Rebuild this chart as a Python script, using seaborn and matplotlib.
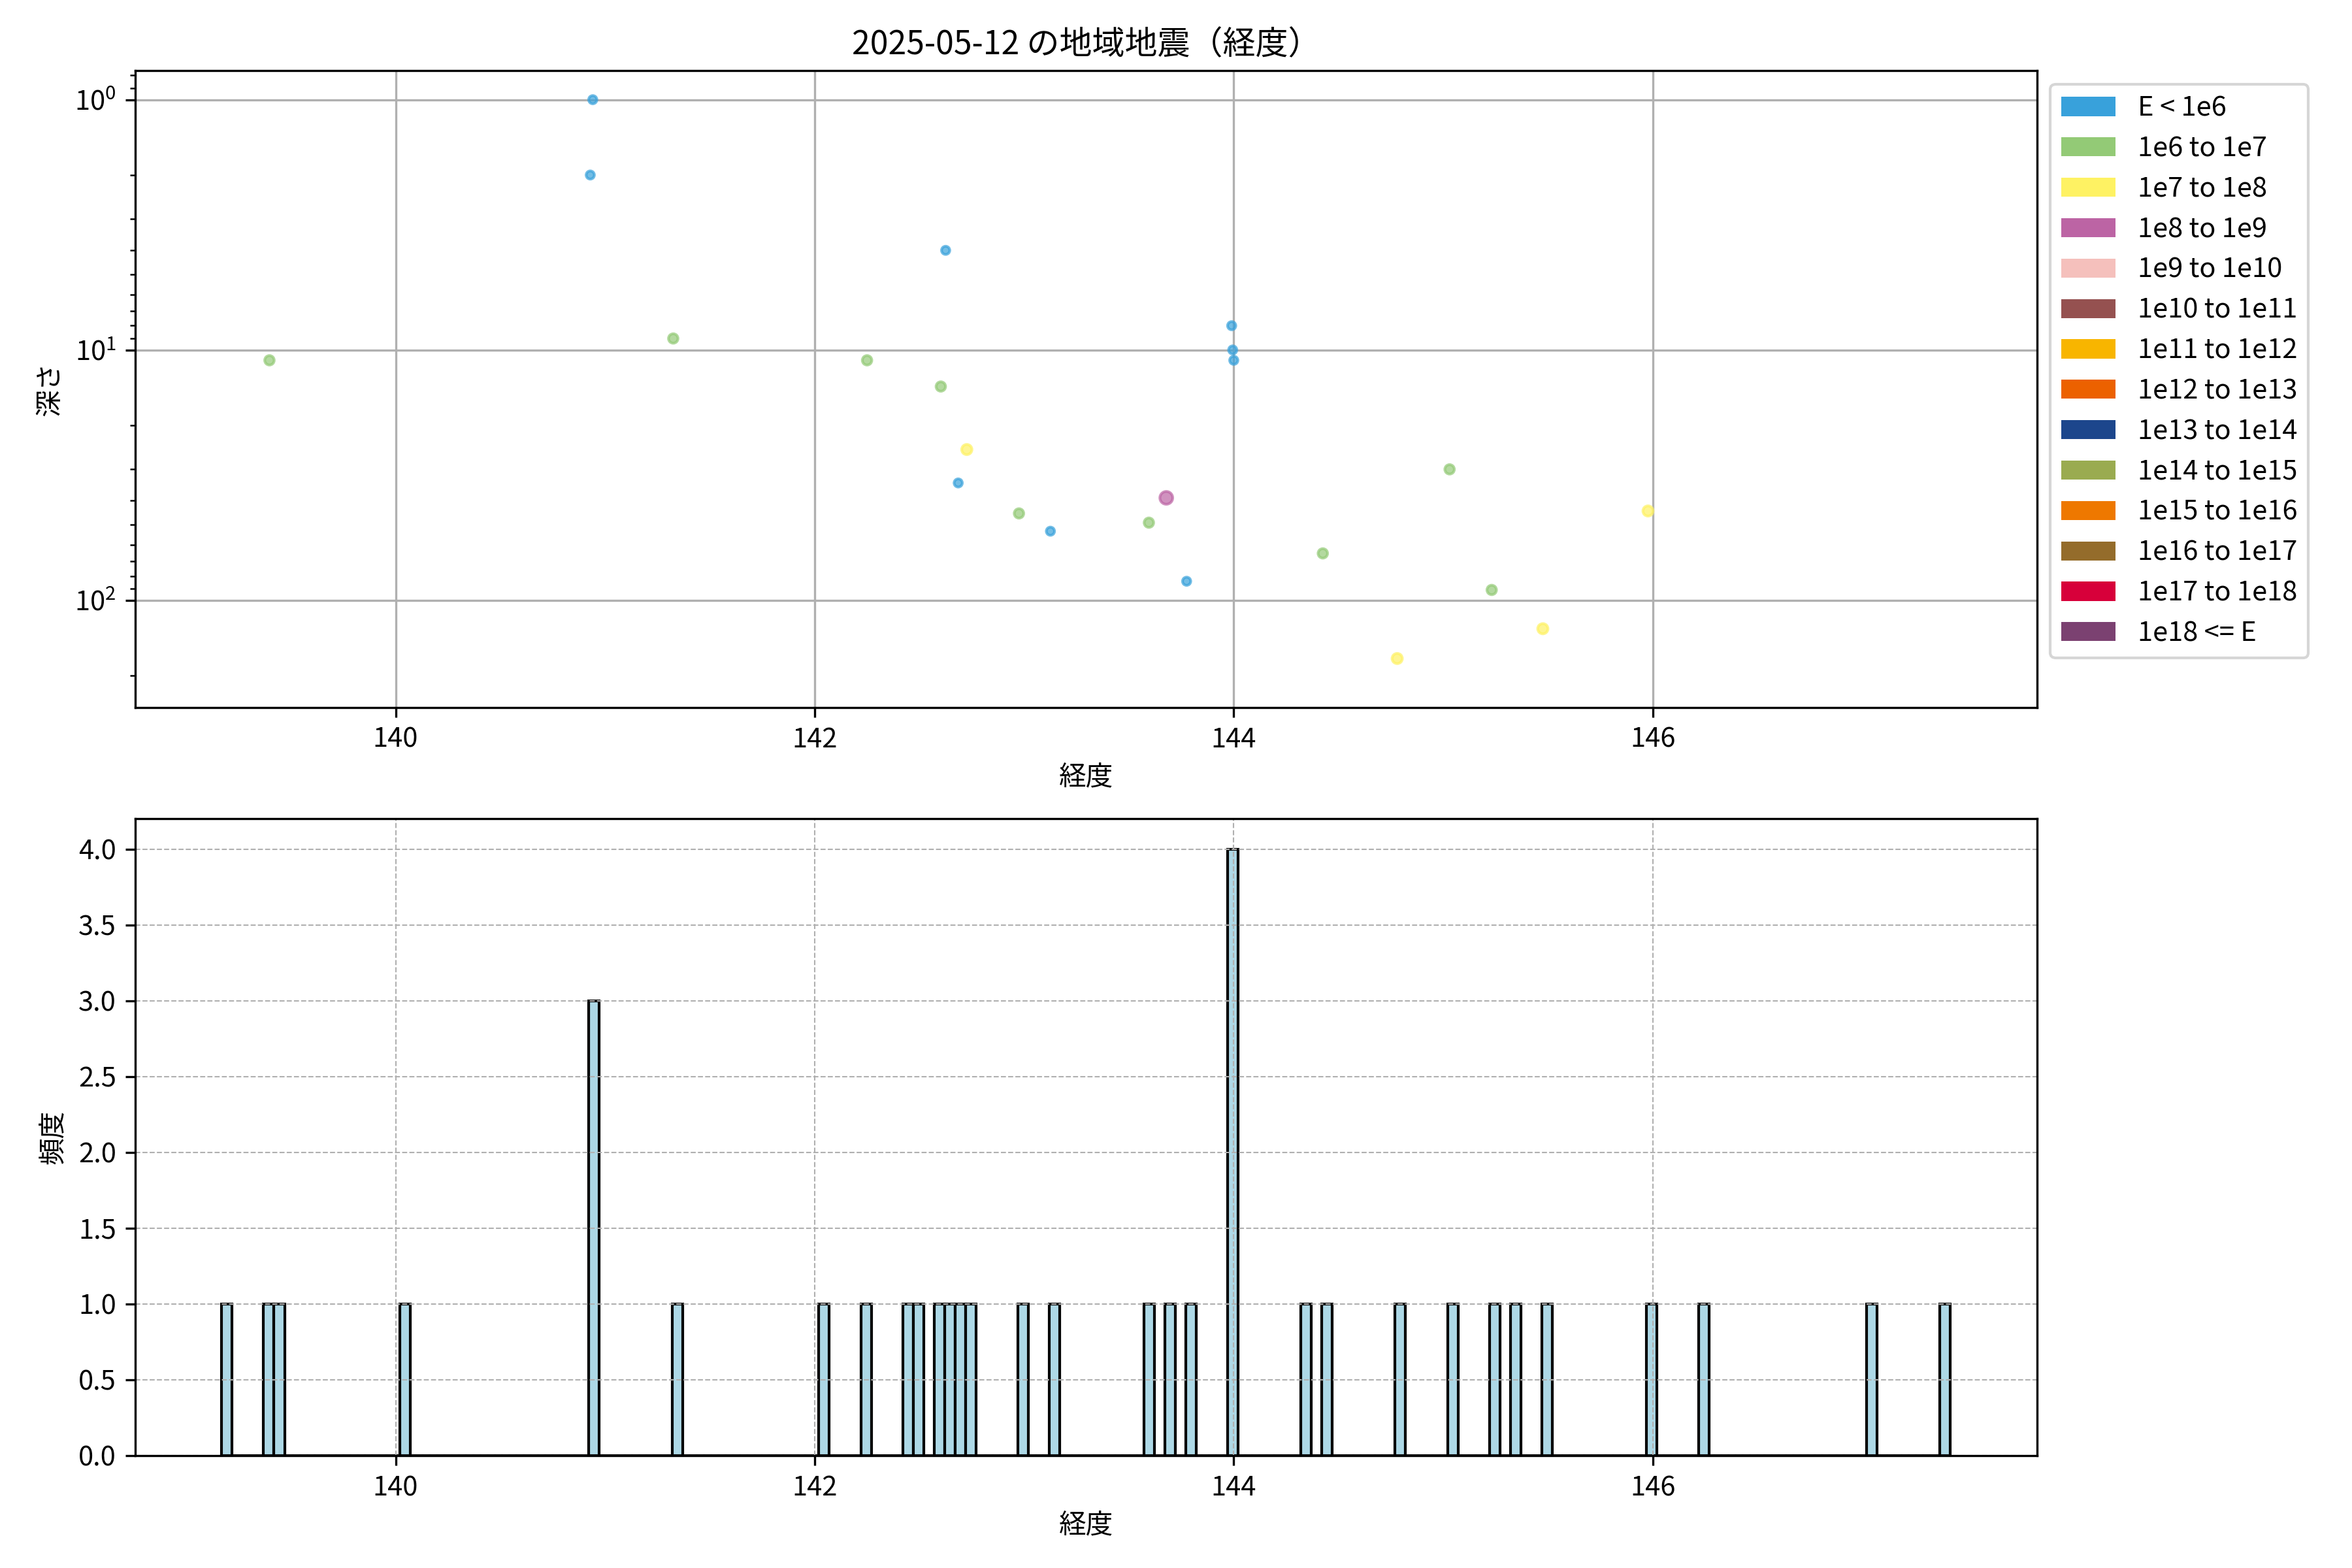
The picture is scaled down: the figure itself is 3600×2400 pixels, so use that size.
import numpy as np
import pandas as pd
import matplotlib
matplotlib.use("Agg")
import matplotlib.pyplot as plt
from matplotlib.patches import Patch
import seaborn as sns

# ---------------- data ----------------
TITLE = "2025-05-12 の地域地震（経度）"
X_LABEL = "経度"
Y_LABEL_TOP = "深さ"
Y_LABEL_BOTTOM = "頻度"

energy_labels = [
    "E < 1e6", "1e6 to 1e7", "1e7 to 1e8", "1e8 to 1e9", "1e9 to 1e10",
    "1e10 to 1e11", "1e11 to 1e12", "1e12 to 1e13", "1e13 to 1e14",
    "1e14 to 1e15", "1e15 to 1e16", "1e16 to 1e17", "1e17 to 1e18", "1e18 <= E",
]
energy_colors = [
    "#38a1db", "#93ca76", "#fef263", "#bc64a4", "#f5c0bc",
    "#955150", "#f8b500", "#ec6100", "#1c468c",
    "#9aab50", "#ee7800", "#946c2b", "#d7003a", "#7b4171",
]

# scatter (events with depth)
scatter_lon = [139.398, 140.941, 140.929, 141.325, 142.250, 142.625, 142.602,
               142.726, 142.685, 142.975, 143.125, 143.595, 143.678, 143.775,
               143.990, 143.995, 144.000, 144.425, 144.780, 145.030, 145.231,
               145.475, 145.977]
scatter_depth = [11, 1.0, 2.0, 9.0, 11, 4.0, 14,
                 25, 34, 45, 53, 49, 39, 84,
                 8.0, 10, 11, 65, 171, 30, 91,
                 130, 44]
scatter_class = ["1e6 to 1e7", "E < 1e6", "E < 1e6", "1e6 to 1e7", "1e6 to 1e7",
                 "E < 1e6", "1e6 to 1e7", "1e7 to 1e8", "E < 1e6", "1e6 to 1e7",
                 "E < 1e6", "1e6 to 1e7", "1e8 to 1e9", "E < 1e6", "E < 1e6",
                 "E < 1e6", "E < 1e6", "1e6 to 1e7", "1e7 to 1e8", "1e6 to 1e7",
                 "1e6 to 1e7", "1e7 to 1e8", "1e7 to 1e8"]

# all event longitudes (histogram)
hist_lon = [139.190, 139.398, 139.445, 140.045, 140.929, 140.941, 140.945,
            141.325, 142.045, 142.250, 142.445, 142.495, 142.602, 142.625,
            142.685, 142.726, 142.975, 143.125, 143.595, 143.678, 143.775,
            143.990, 143.995, 144.000, 144.010, 144.345, 144.425, 144.780,
            145.030, 145.231, 145.345, 145.475, 145.977, 146.245, 147.045,
            147.395]
hist_bin_start = 139.17
hist_bin_stop = 147.42
hist_bin_count = 165

# ---------------- plot ----------------
plt.rcParams['font.family'] = ['Noto Sans CJK JP', 'DejaVu Sans']
plt.rcParams['axes.unicode_minus'] = False

fig, (ax1, ax2) = plt.subplots(2, 1, figsize=(12, 8), dpi=300)
fig.subplots_adjust(left=0.0575, right=0.866, top=0.955, bottom=0.0717, hspace=0.175)

palette = dict(zip(energy_labels, energy_colors))
size_map = {"E < 1e6": 9, "1e6 to 1e7": 12, "1e7 to 1e8": 14, "1e8 to 1e9": 22}

df = pd.DataFrame({"lon": scatter_lon, "depth": scatter_depth, "cls": scatter_class})
sns.scatterplot(data=df, x="lon", y="depth", hue="cls", palette=palette,
                size="cls", sizes=size_map, alpha=0.7, edgecolor="face",
                linewidth=1, legend=False, ax=ax1, zorder=2)
ax1.set_yscale("log")
ax1.set_ylim(268, 0.765)
ax1.grid(True, which="major", color="#b0b0b0", linewidth=0.8)
ax1.set_axisbelow(True)
ax1.set_title(TITLE, fontsize=12)
ax1.set_xlabel(X_LABEL)
ax1.set_ylabel(Y_LABEL_TOP)

handles = [Patch(facecolor=c, label=l) for l, c in zip(energy_labels, energy_colors)]
ax1.legend(handles=handles, loc="upper left", bbox_to_anchor=(1.0, 1.0))

edges = np.linspace(hist_bin_start, hist_bin_stop, hist_bin_count + 1)
sns.histplot(x=hist_lon, bins=edges, color="lightblue", edgecolor="black",
             linewidth=1.0, alpha=1.0, ax=ax2)
ax2.grid(True, linestyle="--", linewidth=0.5, color="#b0b0b0")
ax2.set_xlabel(X_LABEL)
ax2.set_ylabel(Y_LABEL_BOTTOM)
ax2.set_ylim(0, 4.2)

ax1.set_xlim(ax2.get_xlim())

fig.savefig("out.png", dpi=300)
